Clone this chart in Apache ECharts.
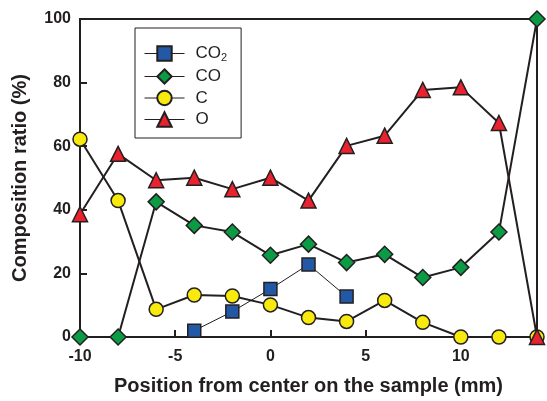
<!DOCTYPE html>
<html><head><meta charset="utf-8">
<script src="https://cdn.jsdelivr.net/npm/echarts@6/dist/echarts.min.js"></script>
<style>html,body{margin:0;padding:0;background:#fff}#c{width:547px;height:401px}</style>
</head><body><div id="c"></div>
<script>
const xPos = [-10, -8, -6, -4, -2, 0, 2, 4, 6, 8, 10, 12, 14];
const co2 = [null, null, null, 2.0, 8.0, 15.1, 22.8, 12.7, null, null, null, null, null];
const co = [0, 0, 42.5, 35.1, 33.0, 25.7, 29.2, 23.4, 26.0, 18.7, 21.9, 33.0, 100];
const c = [62.2, 42.9, 8.7, 13.2, 12.9, 10.1, 6.1, 4.9, 11.5, 4.6, 0, 0, 0];
const o = [38.6, 57.6, 49.3, 50.1, 46.5, 50.1, 42.9, 60.1, 63.3, 77.7, 78.5, 67.3, 0];
const xTicks = [-10, -5, 0, 5, 10];
const yTicks = [0, 20, 40, 60, 80, 100];
const seriesNames = ['CO2', 'CO', 'C', 'O'];

const ink = '#231f20';
const pair = arr => xPos.map((x, i) => [x, arr[i]]).filter(p => p[1] !== null);
const font = 'Liberation Sans, Arial, sans-serif';
function mk(name, data, symbol, size, color, lw) {
  return {
    name, type: 'line', data: pair(data), symbol, symbolSize: size,
    clip: false,
    lineStyle: { color: ink, width: lw },
    itemStyle: { color: color, borderColor: ink, borderWidth: 1.5 },
    emphasis: { disabled: true }
  };
}
const chart = echarts.init(document.getElementById('c'), null, { renderer: 'canvas' });
chart.setOption({
  animation: false,
  backgroundColor: '#fff',
  grid: { left: 80, right: 10, top: 19, bottom: 62, show: true, borderColor: ink, borderWidth: 2 },
  xAxis: {
    type: 'value', min: -10, max: 14, interval: 5,
    name: 'Position from center on the sample (mm)', nameLocation: 'middle', nameGap: 39,
    nameTextStyle: { fontFamily: font, fontWeight: 'bold', fontSize: 20, color: ink },
    axisLine: { onZero: false, lineStyle: { color: ink, width: 2 } },
    axisTick: { show: true, inside: true, length: 7, lineStyle: { color: ink, width: 2 } },
    splitLine: { show: false },
    axisLabel: { fontFamily: font, fontWeight: 'bold', fontSize: 16, color: ink, margin: 12,
      showMaxLabel: false,
      formatter: v => xTicks.includes(v) ? String(v) : '' }
  },
  yAxis: {
    type: 'value', min: 0, max: 100, interval: 20,
    name: 'Composition ratio (%)', nameLocation: 'middle', nameGap: 50,
    nameTextStyle: { fontFamily: font, fontWeight: 'bold', fontSize: 20, color: ink },
    axisLine: { onZero: false, lineStyle: { color: ink, width: 2 } },
    axisTick: { show: true, inside: true, length: 7, lineStyle: { color: ink, width: 2 } },
    splitLine: { show: false },
    axisLabel: { fontFamily: font, fontWeight: 'bold', fontSize: 16, color: ink, margin: 9,
      formatter: v => yTicks.includes(v) ? String(v) : '' }
  },
  legend: {
    data: seriesNames, orient: 'vertical', left: 135, top: 28,
    padding: [17, 14, 10, 9], itemGap: 4.5, itemWidth: 40, itemHeight: 18,
    borderColor: ink, borderWidth: 1, backgroundColor: '#fff',
    lineStyle: { width: 1 },
    formatter: n => n === 'CO2' ? 'CO{sub|2}' : n,
    textStyle: { fontFamily: font, fontSize: 17, color: ink, padding: [0, 0, 0, 6],
      rich: { sub: { fontFamily: font, fontSize: 11, color: ink, padding: [9, 0, 0, 0] } } }
  },
  series: [
    mk('CO2', co2, 'rect', 13, '#2358a6', 1),
    mk('CO', co, 'diamond', 16, '#0b9b45', 2),
    mk('C', c, 'circle', 14, '#f7ea0c', 2),
    mk('O', o, 'triangle', 15, '#e8232f', 2)
  ]
});
</script></body></html>
